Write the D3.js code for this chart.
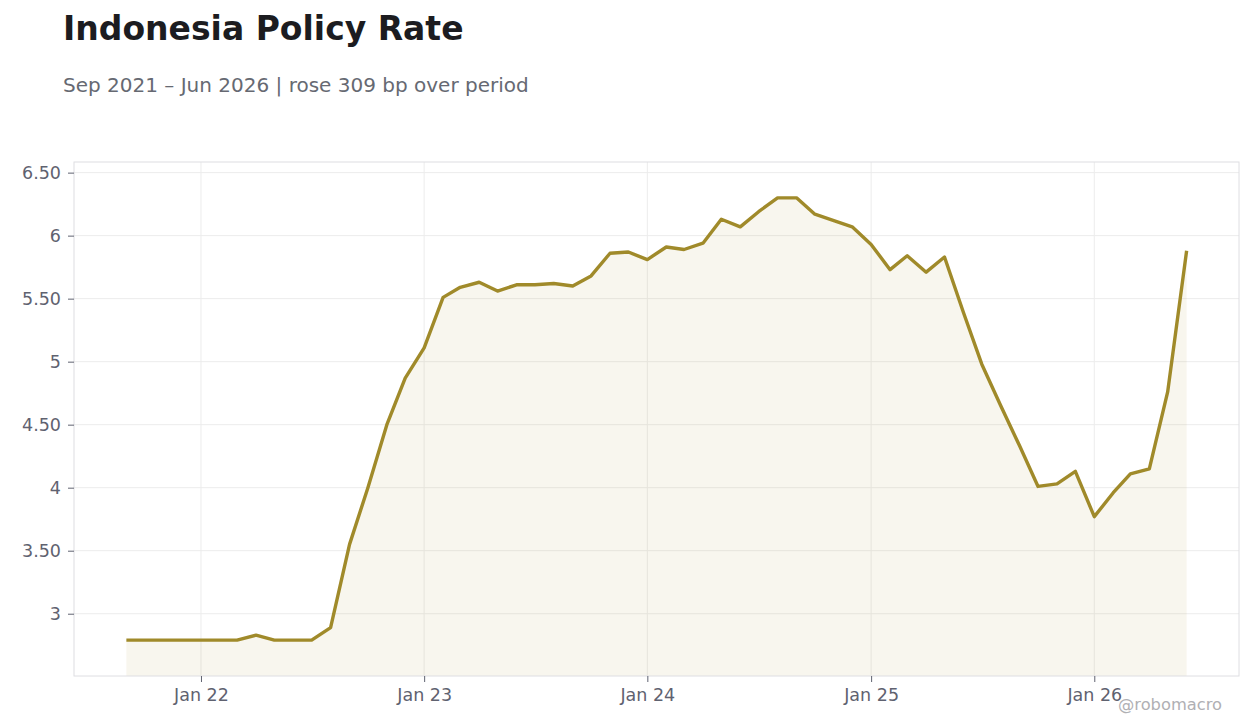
<!DOCTYPE html>
<html>
<head>
<meta charset="utf-8">
<script src="https://cdn.jsdelivr.net/npm/d3@7"></script>
<style>
  body { margin: 0; background: #fff; }
  svg { display: block; font-family: "DejaVu Sans", sans-serif; }
</style>
</head>
<body>
<svg id="chart" width="1260" height="728"></svg>
<script>
// monthly policy rate readings, Sep 2021 .. Jun 2026
var startMonth = "2021-09";
var rates = [
  2.79, 2.79, 2.79, 2.79, 2.79, 2.79, 2.79, 2.83, 2.79, 2.79,
  2.79, 2.89, 3.55, 4.00, 4.50, 4.87, 5.11, 5.51, 5.59, 5.63,
  5.56, 5.61, 5.61, 5.62, 5.60, 5.68, 5.86, 5.87, 5.81, 5.91,
  5.89, 5.94, 6.13, 6.07, 6.19, 6.30, 6.30, 6.17, 6.12, 6.07,
  5.93, 5.73, 5.84, 5.71, 5.83, 5.39, 4.98, 4.65, 4.33, 4.01,
  4.03, 4.13, 3.77, 3.96, 4.11, 4.15, 4.76, 5.88
];
var yTicks = [3, 3.5, 4, 4.5, 5, 5.5, 6, 6.5];
var xTickYears = [2022, 2023, 2024, 2025, 2026];

var titleText = "Indonesia Policy Rate";
var subtitleText = "Sep 2021 \u2013 Jun 2026 | rose 309 bp over period";
var credit = "@robomacro";

var parseMonth = d3.timeParse("%Y-%m");
var t0 = parseMonth(startMonth);
var data = rates.map(function(v, i) {
  return {date: d3.timeMonth.offset(t0, i), value: v};
});

var svg = d3.select("#chart"),
    margin = {top: 162, right: 21, bottom: 52, left: 74},
    width = 1260 - margin.left - margin.right,
    height = 728 - margin.top - margin.bottom;

var lineColor = "#a08a2a";

// title + subtitle
svg.append("text")
  .attr("x", 63).attr("y", 40)
  .attr("font-size", 33).attr("font-weight", "bold")
  .attr("fill", "#1c1c20")
  .text(titleText);
svg.append("text")
  .attr("x", 63).attr("y", 92)
  .attr("font-size", 20)
  .attr("fill", "#666972")
  .text(subtitleText);

// scales, padded around the data extent
var ext = d3.extent(data, function(d) { return d.date; });
var span = ext[1] - ext[0];
var padX = span * 0.0494;
var x = d3.scaleTime()
  .domain([new Date(+ext[0] - padX), new Date(+ext[1] + padX)])
  .range([0, width]);

var yExt = d3.extent(rates);
var padY = (yExt[1] - yExt[0]) * 0.081;
var y = d3.scaleLinear()
  .domain([yExt[0] - padY, yExt[1] + padY])
  .range([height, 0]);

var g = svg.append("g")
  .attr("transform", "translate(" + margin.left + "," + margin.top + ")");

var xTickDates = xTickYears.map(function(yr) { return new Date(yr, 0, 1); });

// grid
g.append("g").attr("class", "grid")
  .selectAll("line.h").data(yTicks).enter().append("line")
  .attr("x1", 0).attr("x2", width)
  .attr("y1", function(d) { return y(d); })
  .attr("y2", function(d) { return y(d); })
  .attr("stroke", "#ececec").attr("stroke-width", 1);
g.select(".grid")
  .selectAll("line.v").data(xTickDates).enter().append("line")
  .attr("y1", 0).attr("y2", height)
  .attr("x1", function(d) { return x(d); })
  .attr("x2", function(d) { return x(d); })
  .attr("stroke", "#ececec").attr("stroke-width", 1);

// area + line
var area = d3.area()
  .x(function(d) { return x(d.date); })
  .y0(height)
  .y1(function(d) { return y(d.value); });
var line = d3.line()
  .x(function(d) { return x(d.date); })
  .y(function(d) { return y(d.value); });

g.append("path")
  .datum(data)
  .attr("d", area)
  .attr("fill", lineColor)
  .attr("fill-opacity", 0.08);

g.append("path")
  .datum(data)
  .attr("d", line)
  .attr("fill", "none")
  .attr("stroke", lineColor)
  .attr("stroke-width", 3.4)
  .attr("stroke-linejoin", "round");

// frame
g.append("rect")
  .attr("x", 0).attr("y", 0)
  .attr("width", width).attr("height", height)
  .attr("fill", "none")
  .attr("stroke", "#dedee2");

// axes
var yAxis = d3.axisLeft(y)
  .tickValues(yTicks)
  .tickSize(6).tickPadding(7)
  .tickFormat(function(d) { return Number.isInteger(d) ? d : d.toFixed(2); });
var yAxisG = g.append("g").call(yAxis);

var xAxis = d3.axisBottom(x)
  .tickValues(xTickDates)
  .tickSize(6).tickPadding(7)
  .tickFormat(d3.timeFormat("Jan %y"));
var xAxisG = g.append("g")
  .attr("transform", "translate(0," + height + ")")
  .call(xAxis);

[yAxisG, xAxisG].forEach(function(ax) {
  ax.select(".domain").remove();
  ax.selectAll(".tick line").attr("stroke", "#5f6270");
  ax.selectAll(".tick text")
    .attr("fill", "#5f6270")
    .attr("font-size", 17.5)
    .attr("font-family", "DejaVu Sans, sans-serif");
});

// credit
svg.append("text")
  .attr("x", 1222).attr("y", 710)
  .attr("text-anchor", "end")
  .attr("font-size", 16.3)
  .attr("fill", "#b0b0b4")
  .text(credit);
</script>
</body>
</html>
